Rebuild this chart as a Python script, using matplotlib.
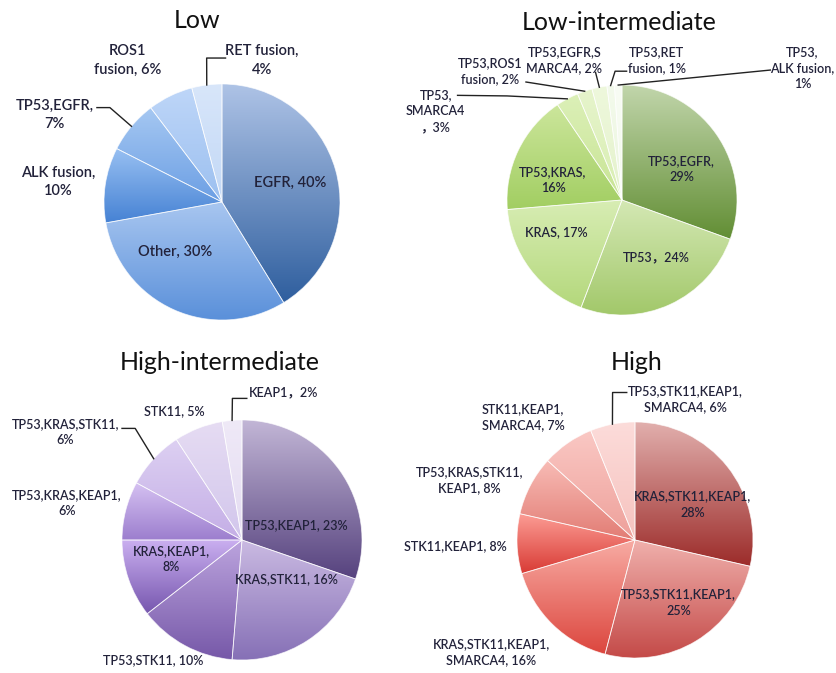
import numpy as np
import matplotlib.pyplot as plt
from matplotlib.colors import LinearSegmentedColormap

plt.rcParams['font.family'] = ['Lato', 'Noto Sans CJK SC', 'DejaVu Sans']

# ---- data ----
low_values = [40, 30, 10, 7, 6, 4]
low_texts = ['EGFR, 40%', 'Other, 30%', 'ALK fusion,\n10%', 'TP53,EGFR,\n7%',
             'ROS1\nfusion, 6%', 'RET fusion,\n4%']

lowint_values = [29, 24, 17, 16, 3, 2, 2, 1, 1]
lowint_texts = ['TP53,EGFR,\n29%', 'TP53，24%', 'KRAS, 17%', 'TP53,KRAS,\n16%',
                'TP53,\nSMARCA4\n，3%', 'TP53,ROS1\nfusion, 2%', 'TP53,EGFR,S\nMARCA4, 2%',
                'TP53,RET\nfusion, 1%', 'TP53,\nALK fusion,\n1%']

highint_values = [23, 16, 10, 8, 6, 6, 5, 2]
highint_texts = ['TP53,KEAP1, 23%', 'KRAS,STK11, 16%', 'TP53,STK11, 10%', 'KRAS,KEAP1,\n8%',
                 'TP53,KRAS,KEAP1,\n6%', 'TP53,KRAS,STK11,\n6%', 'STK11, 5%', 'KEAP1，2%']

high_values = [28, 25, 16, 8, 8, 7, 6]
high_texts = ['KRAS,STK11,KEAP1,\n28%', 'TP53,STK11,KEAP1,\n25%', 'KRAS,STK11,KEAP1,\nSMARCA4, 16%',
              'STK11,KEAP1, 8%', 'TP53,KRAS,STK11,\nKEAP1, 8%', 'STK11,KEAP1,\nSMARCA4, 7%',
              'TP53,STK11,KEAP1,\nSMARCA4, 6%']

# ---- gradient colours (top / bottom of each slice) ----
low_light = ['#aec3e6', '#a8c6f0', '#98c0f2', '#a6c8f2', '#bed6f8', '#d8e6fa']
low_dark = ['#2e5e9e', '#5a90da', '#4682d4', '#6c9fe4', '#9cc0f0', '#c2d8f6']

lowint_light = ['#c2d6ac', '#d4e8b4', '#d8edb4', '#cce69c', '#dcf0b8', '#e6f4cc', '#eef8dc', '#f3faec', '#f8fcf4']
lowint_dark = ['#628e34', '#a2c86a', '#b4d87c', '#a2ce62', '#c8e494', '#d8eeb0', '#e4f2cc', '#ecf6de', '#f2f9ea']

highint_light = ['#c2b6d6', '#cabae2', '#bca4de', '#caaff0', '#d6c2f2', '#ddd0f2', '#e6dcf3', '#efe9f7']
highint_dark = ['#56427e', '#8670b6', '#7658a8', '#7656ae', '#9c7ece', '#c4aee6', '#d2c6ec', '#e4dcf2']

high_light = ['#e2b0ae', '#f0b0ac', '#f8aca4', '#fc9c94', '#f8bcb6', '#fac8c4', '#fcdcda']
high_dark = ['#9c2c2a', '#c44a48', '#dc463e', '#d83a34', '#e27c74', '#eea09a', '#f6c2be']

# ---- layout (pixels) and label placement (pie-radius units) ----
W, H = 837, 673
txt_color = '#22223a'

fig = plt.figure(figsize=(W / 100, H / 100), dpi=100)


def draw_pie(values, texts, light, dark, cx, cy, r, box, pos, leaders, fs):
    x0, y0, x1, y1 = box
    ax = fig.add_axes([x0 / W, 1 - y1 / H, (x1 - x0) / W, (y1 - y0) / H])
    wedges, _ = ax.pie(values, startangle=90, counterclock=False,
                       wedgeprops=dict(facecolor='none', edgecolor=(1, 1, 1, 0.7), linewidth=0.6))
    grad = np.linspace(0, 1, 256).reshape(-1, 1)
    for w, c1, c2 in zip(wedges, light, dark):
        th = np.radians(np.linspace(w.theta1, w.theta2, 100))
        xs = np.append(np.cos(th), 0)
        ys = np.append(np.sin(th), 0)
        cmap = LinearSegmentedColormap.from_list('g', [c1, c2])
        im = ax.imshow(grad, cmap=cmap, origin='upper', aspect='auto',
                       extent=(xs.min(), xs.max(), ys.min(), ys.max()), zorder=1)
        im.set_clip_path(w)
        w.set_zorder(2)
    for w, t, p, ld in zip(wedges, texts, pos, leaders):
        ax.text(p[0], p[1], t, ha='center', va='center', fontsize=fs, fontweight='semibold',
                color=txt_color, linespacing=1.4, zorder=4)
        if ld:
            mid = np.radians((w.theta1 + w.theta2) / 2)
            lx = [np.cos(mid), ld[0][0], ld[1][0]]
            ly = [np.sin(mid), ld[0][1], ld[1][1]]
            ax.plot(lx, ly, color='#222222', lw=1.0, clip_on=False, zorder=3)
    ax.set_xlim((x0 - cx) / r, (x1 - cx) / r)
    ax.set_ylim((cy - y1) / r, (cy - y0) / r)
    ax.set_aspect('auto')
    ax.axis('off')


draw_pie(low_values, low_texts, low_light, low_dark, 222, 202, 118, (0, 0, 418, 336),
         [(0.58, 0.16), (-0.40, -0.42), (-1.39, 0.17), (-1.42, 0.74), (-0.80, 1.20), (0.34, 1.20)],
         [None, None, None, ((-0.95, 0.80), (-1.06, 0.80)), None, ((-0.13, 1.22), (0.03, 1.22))],
         10.5)

draw_pie(lowint_values, lowint_texts, lowint_light, lowint_dark, 622, 200, 115, (418, 0, 837, 336),
         [(0.52, 0.27), (0.30, -0.50), (-0.57, -0.28), (-0.60, 0.17), (-1.62, 0.77),
          (-1.15, 1.12), (-0.50, 1.22), (0.30, 1.22), (1.57, 1.15)],
         [None, None, None, None, ((-1.0, 0.905), (-1.43, 0.91)), ((-0.835, 1.026), (-0.835, 1.026)),
          ((-0.23, 1.11), (-0.23, 1.11)), ((-0.06, 1.12), (0.04, 1.12)), ((1.29, 1.13), (1.29, 1.13))],
         9)

draw_pie(highint_values, highint_texts, highint_light, highint_dark, 242, 540, 120, (0, 336, 418, 673),
         [(0.45, 0.125), (0.37, -0.33), (-0.74, -1.0), (-0.59, -0.16), (-1.46, 0.31),
          (-1.47, 0.90), (-0.56, 1.07), (0.35, 1.23)],
         [None, None, None, None, None, ((-0.89, 0.93), (-1.0, 0.93)), None, ((-0.08, 1.18), (0.04, 1.18))],
         9)

draw_pie(high_values, high_texts, high_light, high_dark, 635, 540, 118, (418, 336, 837, 673),
         [(0.49, 0.30), (0.37, -0.53), (-1.22, -0.95), (-1.52, -0.05), (-1.40, 0.51),
          (-0.95, 1.04), (0.43, 1.19)],
         [None, None, None, None, None, None, ((-0.19, 1.25), (-0.07, 1.25))],
         9)

for title, tx, ty in [('Low', 197, 20), ('Low-intermediate', 619, 23),
                      ('High-intermediate', 220, 362), ('High', 637, 362)]:
    fig.text(tx / W, 1 - ty / H, title, ha='center', va='center', fontsize=18, color='#111111')

fig.savefig('out.png', dpi=100)
